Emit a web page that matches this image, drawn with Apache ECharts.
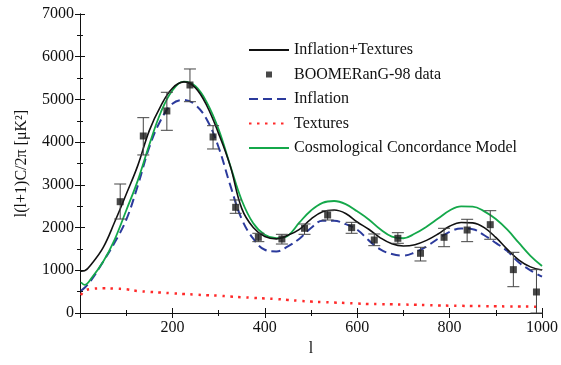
<!DOCTYPE html>
<html><head><meta charset="utf-8">
<script src="https://cdn.jsdelivr.net/npm/echarts@6/dist/echarts.min.js"></script>
<style>html,body{margin:0;padding:0;background:#fff}#c{width:561px;height:365px}</style>
</head><body><div id="c"></div>
<script>
// multipole grid for the model curves
const ells = [2,10,25,50,75,100,125,150,175,200,225,250,275,300,325,350,375,400,425,450,475,500,525,550,575,600,625,650,675,700,725,750,775,800,825,850,875,900,925,950,975,1000];
const inflationTextures = [980,990,1150,1530,2130,2780,3450,4270,4850,5261,5410,5270,4840,4200,3450,2450,2000,1790,1735,1820,1960,2200,2370,2410,2330,2130,1960,1760,1620,1570,1600,1700,1850,2030,2120,2110,2000,1770,1490,1240,1080,1007];
const inflation = [520,590,780,1200,1650,2180,2980,3880,4519,4900,4990,4870,4520,3880,3000,2200,1740,1480,1440,1560,1740,1990,2160,2160,2080,1950,1700,1490,1380,1342,1420,1560,1740,1900,1980,1960,1820,1640,1450,1180,1000,850];
const textures = [420,520,565,578,570,555,515,495,478,460,445,430,415,405,385,370,355,340,328,305,285,268,255,245,235,222,211,208,204,199,192,185,178,172,168,164,160,157,154,151,149,148];
const concordance = [720,660,820,1200,1720,2400,3100,3940,4700,5210,5416,5310,4920,4300,3460,2640,2100,1830,1750,1810,2120,2400,2580,2622,2550,2380,2190,1960,1790,1750,1860,2021,2210,2400,2495,2490,2380,2200,1950,1640,1340,1100];
// BOOMERanG-98 band powers
const dataL   = [87,137,188,238,288,337,386,437,486,536,588,637,688,737,788,838,888,938,988];
const dataVal = [2606,4144,4730,5338,4121,2474,1772,1733,1983,2295,1998,1709,1749,1398,1772,1943,2068,1015,492];
const errLo   = [2200,3700,4277,4947,3840,2334,1670,1615,1842,2177,1866,1576,1632,1218,1552,1670,1726,616,0];
const errHi   = [3020,4573,5167,5713,4385,2646,1866,1842,2084,2395,2123,1850,1880,1538,1983,2194,2395,1421,1015];
const xTicks = [200,400,600,800,1000];

const pair = arr => ells.map((l,i)=>[l,arr[i]]);
const serif = 'Liberation Serif';
const axisCommon = {
  axisLine:{show:true,lineStyle:{color:'#111',width:1}},
  axisTick:{show:true,inside:true,length:5,lineStyle:{color:'#111'}},
  minorTick:{show:true,splitNumber:2,length:3,lineStyle:{color:'#111'}},
  splitLine:{show:false}
};
const hideSym = {itemStyle:{opacity:0}};
const chart = echarts.init(document.getElementById('c'));
chart.setOption({
  animation:false,
  backgroundColor:'#fff',
  grid:{left:80,right:19,top:14,bottom:52},
  legend:{
    orient:'vertical', left:243, top:37, itemWidth:40, itemHeight:14, itemGap:8.5,
    textStyle:{fontFamily:serif,fontSize:16,color:'#111'},
    data:[
      Object.assign({name:'Inflation+Textures'},hideSym),
      {name:'BOOMERanG-98 data', icon:'path://M0,0L0,0.01M40,14L40,14.01M17,4h6v6h-6z'},
      Object.assign({name:'Inflation'},hideSym),
      Object.assign({name:'Textures'},hideSym),
      Object.assign({name:'Cosmological Concordance Model'},hideSym)
    ]
  },
  xAxis:[
    Object.assign({type:'value',min:0,max:1000,interval:200,position:'bottom',
      name:'l',nameLocation:'middle',nameGap:25,
      nameTextStyle:{fontFamily:serif,fontSize:16,color:'#111'},
      axisLabel:{fontFamily:serif,fontSize:16,color:'#111',margin:7,
        formatter:v=>xTicks.includes(v)?String(v):''}},axisCommon),
    Object.assign({type:'value',min:0,max:1000,interval:200,position:'top',axisLabel:{show:false}},axisCommon)
  ],
  yAxis:[
    Object.assign({type:'value',min:0,max:7000,interval:1000,position:'left',
      name:'l(l+1)C/2π [μK²]',nameLocation:'middle',nameGap:50,
      nameTextStyle:{fontFamily:serif,fontSize:16,color:'#111'},
      axisLabel:{fontFamily:serif,fontSize:16,color:'#111',margin:6,formatter:v=>String(v)}},axisCommon),
    Object.assign({type:'value',min:0,max:7000,interval:1000,position:'right',axisLabel:{show:false}},axisCommon)
  ],
  series:[
    {name:'Inflation+Textures',type:'line',data:pair(inflationTextures),smooth:0.4,symbol:'none',
      lineStyle:{color:'#111',width:1.6},itemStyle:{color:'#111'},z:4},
    {name:'BOOMERanG-98 data',type:'scatter',data:dataL.map((l,i)=>[l,dataVal[i]]),symbol:'rect',symbolSize:7,
      itemStyle:{color:'#1a1a1a'},z:6},
    {name:'Inflation',type:'line',data:pair(inflation),smooth:0.4,symbol:'none',
      lineStyle:{color:'#2b3a9c',width:2,type:[9,5]},itemStyle:{color:'#2b3a9c'},z:3},
    {name:'Textures',type:'line',data:pair(textures),smooth:0.4,symbol:'none',
      lineStyle:{color:'#ff2a2a',width:2.5,type:[2.5,5.5]},itemStyle:{color:'#ff2a2a'},z:3},
    {name:'Cosmological Concordance Model',type:'line',data:pair(concordance),smooth:0.4,symbol:'none',
      lineStyle:{color:'#14a84a',width:1.8},itemStyle:{color:'#14a84a'},z:3},
    {name:'errors',type:'custom',z:5,
      data:dataL.map((l,i)=>[l,errLo[i],errHi[i]]),
      renderItem:(params,api)=>{
        const t=api.coord([api.value(0),api.value(2)]);
        const b=api.coord([api.value(0),api.value(1)]);
        const hw=6, st={stroke:'#444',lineWidth:1};
        return {type:'group',children:[
          {type:'line',shape:{x1:t[0],y1:t[1],x2:b[0],y2:b[1]},style:st},
          {type:'line',shape:{x1:t[0]-hw,y1:t[1],x2:t[0]+hw,y2:t[1]},style:st},
          {type:'line',shape:{x1:b[0]-hw,y1:b[1],x2:b[0]+hw,y2:b[1]},style:st}
        ]};
      }}
  ]
});
</script></body></html>
